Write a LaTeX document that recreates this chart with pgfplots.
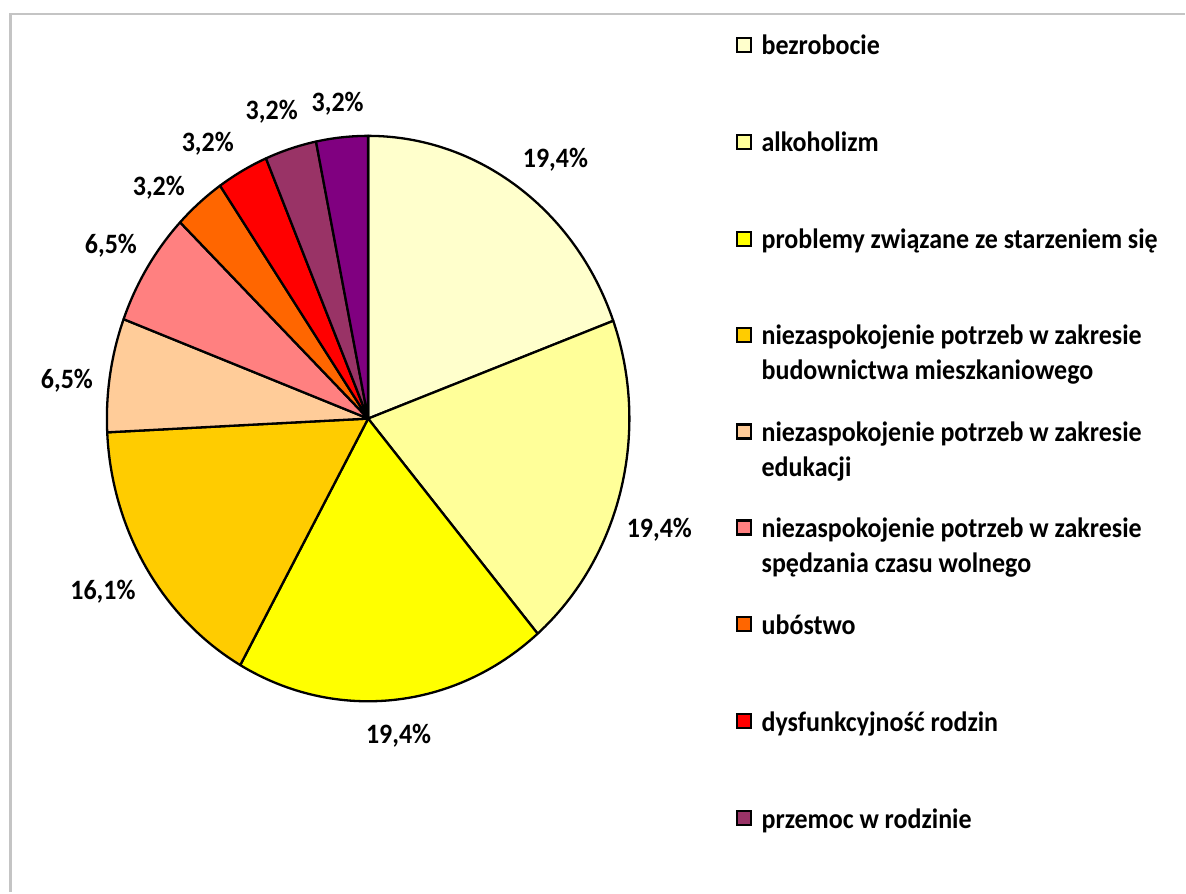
\documentclass[border=0pt]{standalone}
\usepackage{pgfplots}
\usepackage{pgfplotstable}
\usepackage{graphicx}
\usepackage{fontspec}
\setmainfont{Carlito}
\pgfplotsset{compat=1.18}

\definecolor{c1}{HTML}{FFFFCC}
\definecolor{c2}{HTML}{FFFF99}
\definecolor{c3}{HTML}{FFFF00}
\definecolor{c4}{HTML}{FFCC00}
\definecolor{c5}{HTML}{FFCC99}
\definecolor{c6}{HTML}{FF8080}
\definecolor{c7}{HTML}{FF6600}
\definecolor{c8}{HTML}{FF0000}
\definecolor{c9}{HTML}{993366}
\definecolor{c10}{HTML}{800080}
\definecolor{frame}{HTML}{C4C4C4}

% text in the reference is slightly stretched vertically
\newcommand{\tall}[1]{\scalebox{1}[1.08]{#1}}

% share (%), colour, label position in px (from top left), label
\pgfplotstableread{
share col lx  ly  lab
19.4  c1  556 160 19,4
19.4  c2  660 530 19,4
19.4  c3  399 736 19,4
16.1  c4  103 592 16,1
6.5   c5  67  381 6,5
6.5   c6  111 246 6,5
3.2   c7  159 188 3,2
3.2   c8  208 144 3,2
3.2   c9  272 112 3,2
3.2   c10 338 104 3,2
}\piedata

\begin{document}
\begin{tikzpicture}[every node/.style={font=\fontsize{13pt}{17.5pt}\selectfont\bfseries}]
\begin{axis}[
  x=0.5pt, y=0.5pt,
  xmin=0, xmax=1186, ymin=0, ymax=893,
  y dir=reverse,
  hide axis, clip=false,
]
\path (axis cs:0,0) rectangle (axis cs:1186,893);
\draw[frame, line width=1.2pt] (axis cs:10.5,893) -- (axis cs:10.5,14) -- (axis cs:1186,14);

% pie slices, clockwise from 12 o'clock
\pgfplotstablegetrowsof{\piedata}
\pgfmathtruncatemacro\last{\pgfplotsretval-1}
\def\total{0}
\pgfplotsforeachungrouped \i in {0,...,\last}{%
  \pgfplotstablegetelem{\i}{share}\of\piedata
  \pgfmathsetmacro\total{\total+\pgfplotsretval}%
}
\def\angA{90}
\pgfplotsforeachungrouped \i in {0,...,\last}{%
  \pgfplotstablegetelem{\i}{share}\of\piedata \let\val\pgfplotsretval
  \pgfplotstablegetelem{\i}{col}\of\piedata \let\col\pgfplotsretval
  \pgfmathsetmacro\angB{\angA-360*\val/\total}%
  \edef\temp{\noexpand\filldraw[fill=\col, draw=black, line width=1.15pt, line join=round]
    (axis cs:368.5,419) -- ++(\angA:130.75pt and 141.5pt)
    arc[start angle=\angA, end angle=\angB, x radius=130.75pt, y radius=141.5pt] -- cycle;}%
  \temp
  \global\let\angA\angB
}

% data labels
\addplot[only marks, mark=none, nodes near coords={\tall{\pgfplotspointmeta\%}},
  point meta=explicit symbolic,
  every node near coord/.append style={anchor=center, inner sep=0pt}]
  table[x=lx, y=ly, meta=lab] {\piedata};

% legend
\draw[line width=1.1pt, fill=c1]  (axis cs:738,38)  rectangle (axis cs:752,52);
\draw[line width=1.1pt, fill=c2]  (axis cs:738,135) rectangle (axis cs:752,149);
\draw[line width=1.1pt, fill=c3]  (axis cs:738,232) rectangle (axis cs:752,246);
\draw[line width=1.1pt, fill=c4]  (axis cs:738,328) rectangle (axis cs:752,342);
\draw[line width=1.1pt, fill=c5]  (axis cs:738,425) rectangle (axis cs:752,439);
\draw[line width=1.1pt, fill=c6]  (axis cs:738,521) rectangle (axis cs:752,535);
\draw[line width=1.1pt, fill=c7]  (axis cs:738,618) rectangle (axis cs:752,632);
\draw[line width=1.1pt, fill=c8]  (axis cs:738,715) rectangle (axis cs:752,729);
\draw[line width=1.1pt, fill=c9]  (axis cs:738,812) rectangle (axis cs:752,826);
\node[anchor=base west, inner sep=0pt] at (axis cs:762,55)  {\tall{bezrobocie}};
\node[anchor=base west, inner sep=0pt] at (axis cs:762,152) {\tall{alkoholizm}};
\node[anchor=base west, inner sep=0pt] at (axis cs:762,249) {\tall{problemy związane ze starzeniem się}};
\node[anchor=base west, inner sep=0pt] at (axis cs:762,345) {\tall{niezaspokojenie potrzeb w zakresie}};
\node[anchor=base west, inner sep=0pt] at (axis cs:762,380) {\tall{budownictwa mieszkaniowego}};
\node[anchor=base west, inner sep=0pt] at (axis cs:762,442) {\tall{niezaspokojenie potrzeb w zakresie}};
\node[anchor=base west, inner sep=0pt] at (axis cs:762,477) {\tall{edukacji}};
\node[anchor=base west, inner sep=0pt] at (axis cs:762,538) {\tall{niezaspokojenie potrzeb w zakresie}};
\node[anchor=base west, inner sep=0pt] at (axis cs:762,573) {\tall{spędzania czasu wolnego}};
\node[anchor=base west, inner sep=0pt] at (axis cs:762,635) {\tall{ubóstwo}};
\node[anchor=base west, inner sep=0pt] at (axis cs:762,732) {\tall{dysfunkcyjność rodzin}};
\node[anchor=base west, inner sep=0pt] at (axis cs:762,829) {\tall{przemoc w rodzinie}};
\end{axis}
\end{tikzpicture}
\end{document}
